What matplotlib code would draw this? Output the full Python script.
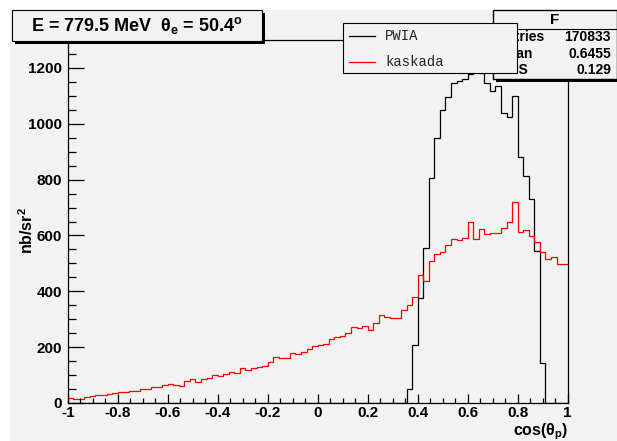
import numpy as np
import matplotlib
matplotlib.use("Agg")
import matplotlib.pyplot as plt
from matplotlib.patches import Rectangle
from matplotlib.lines import Line2D
from matplotlib.ticker import MultipleLocator

# ---------------- data ----------------
x_range = (-1.0, 1.0)
n_bins = 90

pwia = [0] * 61 + [49, 208, 375, 554, 807, 950, 1049, 1095, 1145, 1153,
                   1159, 1177, 1185, 1183, 1147, 1117, 1136, 1037, 1025, 1101,
                   882, 812, 730, 544, 144, 0, 0, 0, 0]

kaskada = [18, 16, 16, 22, 24, 28, 30, 34, 35, 38,
           38, 44, 44, 50, 51, 57, 58, 66, 67, 66,
           62, 78, 85, 76, 86, 91, 100, 97, 104, 112,
           109, 124, 118, 124, 130, 134, 148, 166, 162, 162,
           180, 175, 184, 195, 204, 206, 210, 228, 235, 240,
           252, 271, 270, 276, 261, 285, 315, 307, 306, 306,
           332, 350, 381, 457, 437, 509, 533, 540, 566, 589,
           584, 590, 648, 587, 622, 605, 610, 608, 626, 648,
           721, 614, 620, 598, 578, 540, 515, 524, 498, 498]

x_ticks = [-1, -0.8, -0.6, -0.4, -0.2, 0, 0.2, 0.4, 0.6, 0.8, 1]
x_tick_labels = ["-1", "-0.8", "-0.6", "-0.4", "-0.2", "0", "0.2", "0.4", "0.6", "0.8", "1"]
y_ticks = [0, 200, 400, 600, 800, 1000, 1200]
y_tick_labels = ["0", "200", "400", "600", "800", "1000", "1200"]
y_max = 1300

title_text = r"E = 779.5 MeV  $\theta_{e}$ = 50.4$^{o}$"
x_label = r"cos($\theta_{p}$)"
y_label = r"nb/sr$^{2}$"
legend_labels = ["PWIA", "kaskada"]
stats_name = "F"
stats_keys = ["Entries", "Mean", "RMS"]
stats_vals = ["170833", "0.6455", "0.129"]

# ---------------- style ----------------
plt.rcParams['font.family'] = ['Liberation Sans', 'DejaVu Sans']
plt.rcParams['font.weight'] = 'bold'
plt.rcParams['mathtext.fontset'] = 'custom'
plt.rcParams['mathtext.rm'] = 'Liberation Sans:bold'
plt.rcParams['mathtext.it'] = 'Liberation Sans:bold'
plt.rcParams['mathtext.bf'] = 'Liberation Sans:bold'

W, H = 617, 441
GREY = '#f2f2f2'
fig = plt.figure(figsize=(W / 100, H / 100), dpi=100)
fig.patch.set_facecolor('white')


def fx(x):
    return x / W


def fy(y):
    return 1 - y / H


def rect(x0, y0, x1, y1, **kw):
    r = Rectangle((fx(x0), fy(y1)), fx(x1) - fx(x0), fy(y0) - fy(y1),
                  transform=fig.transFigure, **kw)
    fig.patches.append(r)
    return r


# canvas background
rect(10, 10, W + 5, H + 5, facecolor=GREY, edgecolor='none', zorder=-10)

# ---------------- axes ----------------
L, R, T, B = 67.7, 567.7, 40, 403
ax = fig.add_axes([fx(L), fy(B), fx(R) - fx(L), fy(T) - fy(B)])
ax.set_zorder(1)
ax.set_facecolor(GREY)
edges = np.linspace(x_range[0], x_range[1], n_bins + 1)
ax.stairs(pwia, edges, color='black', lw=0.9, baseline=0)
ax.stairs(kaskada, edges, color='#ff0000', lw=0.9, baseline=None)
ax.set_xlim(*x_range)
ax.set_ylim(0, y_max)

for s in ax.spines.values():
    s.set_linewidth(0.9)
    s.set_color('black')

ax.set_xticks(x_ticks)
ax.set_xticklabels(x_tick_labels)
ax.set_yticks(y_ticks)
ax.set_yticklabels(y_tick_labels)
ax.xaxis.set_minor_locator(MultipleLocator(0.05))
ax.yaxis.set_minor_locator(MultipleLocator(50))
ax.tick_params(which='both', direction='in', top=False, right=False,
               width=0.9, labelsize=11)
ax.tick_params(axis='x', which='major', length=6.8, pad=2)
ax.tick_params(axis='x', which='minor', length=3.6)
ax.tick_params(axis='y', which='major', length=11.5, pad=4)
ax.tick_params(axis='y', which='minor', length=5.8)
for lab in ax.get_xticklabels() + ax.get_yticklabels():
    lab.set_fontweight('bold')

fig.text(fx(568), fy(432), x_label, ha='right', va='center', fontsize=11.5,
         fontweight='bold', zorder=3)
fig.text(fx(27), fy(230), y_label, ha='center', va='center', fontsize=11.5,
         fontweight='bold', rotation=90, zorder=3)

# ---------------- title box ----------------
rect(15, 13, 265, 44, facecolor='black', edgecolor='none', zorder=5)
rect(12, 10, 262, 41, facecolor=GREY, edgecolor='black', lw=0.8, zorder=6)
fig.text(fx(137), fy(25), title_text, ha='center', va='center', fontsize=13,
         fontweight='bold', zorder=7)

# ---------------- stats box ----------------
rect(496, 79, W + 5, 82, facecolor='black', edgecolor='none', zorder=5)
rect(493, 10, 616.5, 79, facecolor=GREY, edgecolor='black', lw=1.0, zorder=6)
fig.add_artist(Line2D([fx(493), fx(616.5)], [fy(29), fy(29)], color='black',
                      lw=0.8, zorder=7))
fig.text(fx(555), fy(19.5), stats_name, ha='center', va='center', fontsize=11,
         fontweight='bold', zorder=7)
for i, (k, v) in enumerate(zip(stats_keys, stats_vals)):
    yy = [37, 54, 70][i]
    fig.text(fx(497), fy(yy), k, ha='left', va='center', fontsize=10,
             fontweight='bold', zorder=7)
    fig.text(fx(611), fy(yy), v, ha='right', va='center', fontsize=10,
             fontweight='bold', zorder=7)

# ---------------- legend ----------------
rect(343, 23, 517, 73, facecolor=GREY, edgecolor='black', lw=0.8, zorder=8)
for i, (lab, col) in enumerate(zip(legend_labels, ['black', '#ff0000'])):
    yy = [36, 62][i]
    fig.add_artist(Line2D([fx(349), fx(375)], [fy(yy), fy(yy)], color=col,
                          lw=0.9, zorder=9))
    fig.text(fx(385), fy(yy), lab, ha='left', va='center', fontsize=10,
             family=['Liberation Mono', 'DejaVu Sans Mono'],
             fontweight='normal', color='#222222', zorder=9)

fig.savefig('out.png', dpi=100, facecolor=fig.get_facecolor())
